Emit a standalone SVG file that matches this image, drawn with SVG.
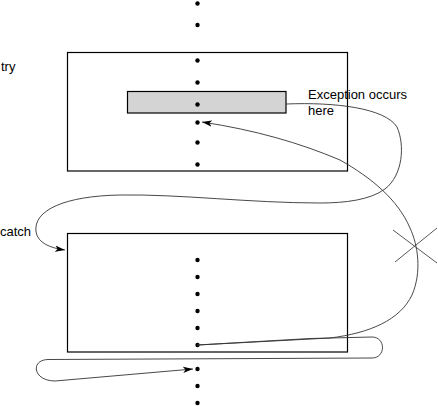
<svg xmlns="http://www.w3.org/2000/svg" width="438" height="406" viewBox="0 0 438 406">
<style>
.box{fill:none;stroke:#000;stroke-width:1.2}
.stmt{fill:#d4d4d4;stroke:#000;stroke-width:1.2}
.dot{fill:#000}
.lbl{font-family:"Liberation Sans",Arial,sans-serif;font-size:13px;fill:#000}
.conn{fill:none;stroke:#333;stroke-width:0.9}
.xmark{stroke:#444;stroke-width:0.9}
</style>
<defs>
<marker id="arr" markerUnits="userSpaceOnUse" markerWidth="12" markerHeight="8" refX="10" refY="4" orient="auto">
<path d="M0,0.8 L10,4 L0,7.2 L2.5,4 Z" fill="#000"/>
</marker>
</defs>
<rect width="438" height="406" fill="#fff"/>
<g id="try-block">
<rect class="box" x="67.5" y="52.5" width="280" height="118.5"/>
<text class="lbl" x="1" y="71">try</text>
</g>
<g id="exception-statement">
<rect class="stmt" x="127.5" y="91.5" width="158.5" height="21.5"/>
<text class="lbl" x="308" y="99">Exception occurs</text>
<text class="lbl" x="308" y="115">here</text>
</g>
<g id="catch-block">
<rect class="box" x="67.5" y="233.5" width="280" height="118.5"/>
<text class="lbl" x="0" y="236">catch</text>
</g>
<g id="statements">
<circle class="dot" cx="197.5" cy="3.5" r="2.2"/>
<circle class="dot" cx="197.5" cy="25" r="2.2"/>
<circle class="dot" cx="197.5" cy="60.5" r="2.2"/>
<circle class="dot" cx="197.5" cy="82.5" r="2.2"/>
<circle class="dot" cx="197.5" cy="104.5" r="2.2"/>
<circle class="dot" cx="197.5" cy="122.5" r="2.2"/>
<circle class="dot" cx="197.5" cy="142.5" r="2.2"/>
<circle class="dot" cx="197.5" cy="164.5" r="2.2"/>
<circle class="dot" cx="197.5" cy="260" r="2.2"/>
<circle class="dot" cx="197.5" cy="277" r="2.2"/>
<circle class="dot" cx="197.5" cy="294" r="2.2"/>
<circle class="dot" cx="197.5" cy="311" r="2.2"/>
<circle class="dot" cx="197.5" cy="328" r="2.2"/>
<circle class="dot" cx="197.5" cy="345" r="2.2"/>
<circle class="dot" cx="197.5" cy="369" r="2.2"/>
<circle class="dot" cx="197.5" cy="386" r="2.2"/>
<circle class="dot" cx="197.5" cy="403" r="2.2"/>
</g>
<g id="connectors">
<path class="conn" marker-end="url(#arr)" d="M286,104 C335,102 385,108 397,127 C405,145 403,175 385,189 C370,200 345,203 320,203 C250,203 180,194 120,195 C65,196 33,210 36,232 C38,243 50,248 65,250"/>
<path class="conn" marker-end="url(#arr)" d="M197.5,345 L330,338 C370,333 400,320 412,295 C422,272 418,245 410,228 C398,200 372,178 340,160 C300,143 255,130 202,122"/>
<path class="conn" marker-end="url(#arr)" d="M197.5,345 L310,338.5 L372,337 C386,337 386,358 372,358 L48,359.5 C30,360 33,381 55,381 L193,369"/>
<line class="xmark" x1="393" y1="230" x2="437" y2="263"/>
<line class="xmark" x1="437" y1="228" x2="395" y2="262"/>
</g>
</svg>
